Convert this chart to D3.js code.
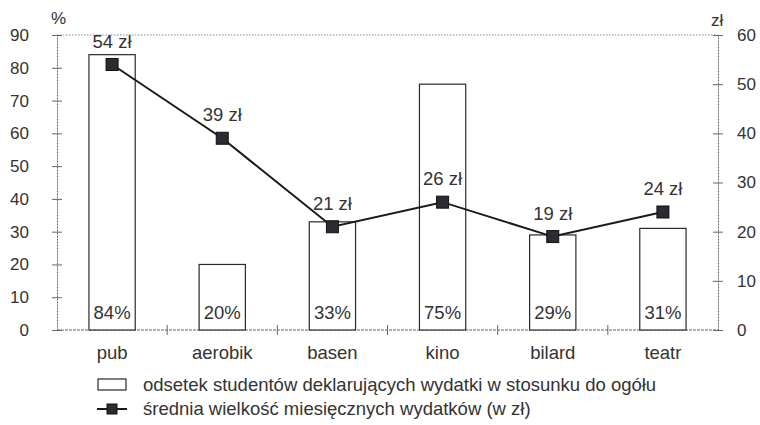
<!DOCTYPE html>
<html><head><meta charset="utf-8">
<script src="https://cdn.jsdelivr.net/npm/d3@7"></script>
<style>body{margin:0;background:#fff}text{font-family:"Liberation Sans",Arial,sans-serif;fill:#333}</style>
</head><body><svg id="c" width="760" height="425"></svg>
<script>
const categories = ["pub","aerobik","basen","kino","bilard","teatr"];
const percentValues = [84,20,33,75,29,31];
const spendValues = [54,39,21,26,19,24];
const leftTicks = [0,10,20,30,40,50,60,70,80,90];
const rightTicks = [0,10,20,30,40,50,60];
const legendLabels = ["odsetek studentów deklarujących wydatki w stosunku do ogółu","średnia wielkość miesięcznych wydatków (w zł)"];

const svg = d3.select("#c");
const L = 57, R = 718, T = 35, B = 330;
const x = d3.scaleBand().domain(categories).range([L,R]).paddingInner(0.58).paddingOuter(0.29);
const xb = d3.scaleBand().domain(categories).range([L,R]);
const yL = d3.scaleLinear().domain([0,90]).range([B,T]);
const yR = d3.scaleLinear().domain([0,60]).range([B,T]);
const axisCol = "#666";
const FS = 18.5;

// top dotted gridline
svg.append("line").attr("x1",L).attr("x2",R).attr("y1",T).attr("y2",T)
  .attr("stroke","#888").attr("stroke-dasharray","1.5,1.5").attr("stroke-width",1);

// left axis
const gl = svg.append("g").attr("transform",`translate(${L},0)`)
  .call(d3.axisLeft(yL).tickValues(leftTicks).tickSize(0).tickPadding(28));
gl.select(".domain").attr("stroke",axisCol).attr("stroke-dasharray","2,1");
gl.selectAll("text").attr("font-size",17).attr("fill","#333").attr("font-family","'Liberation Sans',Arial,sans-serif");
gl.selectAll(".tick").append("line").attr("x1",-5).attr("x2",5).attr("stroke",axisCol);

// right axis
const gr = svg.append("g").attr("transform",`translate(${R},0)`)
  .call(d3.axisRight(yR).tickValues(rightTicks).tickSize(0).tickPadding(19));
gr.select(".domain").attr("stroke",axisCol).attr("stroke-dasharray","2,1");
gr.selectAll("text").attr("font-size",17).attr("fill","#333").attr("font-family","'Liberation Sans',Arial,sans-serif");
gr.selectAll(".tick").append("line").attr("x1",-5).attr("x2",5).attr("stroke",axisCol);

// bottom axis
svg.append("line").attr("x1",L).attr("x2",R).attr("y1",B).attr("y2",B).attr("stroke",axisCol).attr("stroke-dasharray","3,1");
categories.forEach((c,i)=>{ if(i>0){ const xx = xb(c); svg.append("line").attr("x1",xx).attr("x2",xx).attr("y1",B-5).attr("y2",B+5).attr("stroke",axisCol);} });
svg.append("g").selectAll("text").data(categories).join("text")
  .attr("x",d=>x(d)+x.bandwidth()/2).attr("y",359).attr("text-anchor","middle").attr("font-size",FS).text(d=>d);

// axis titles
svg.append("text").attr("x",51).attr("y",24).attr("font-size",17).text("%");
svg.append("text").attr("x",711).attr("y",26).attr("font-size",17).text("zł");

// bars
svg.append("g").selectAll("rect").data(percentValues).join("rect")
  .attr("x",(d,i)=>x(categories[i])).attr("width",x.bandwidth())
  .attr("y",d=>yL(d)).attr("height",d=>B-yL(d))
  .attr("fill","#fff").attr("stroke","#2a2a2a").attr("stroke-width",1.2);
svg.append("g").selectAll("text").data(percentValues).join("text")
  .attr("x",(d,i)=>x(categories[i])+x.bandwidth()/2).attr("y",319).attr("text-anchor","middle")
  .attr("font-size",FS).text(d=>d+"%");

// line
const cx = (i)=>x(categories[i])+x.bandwidth()/2;
svg.append("path").datum(spendValues)
  .attr("d",d3.line().x((d,i)=>cx(i)).y(d=>yR(d)))
  .attr("fill","none").attr("stroke","#1a1a1a").attr("stroke-width",2);
svg.append("g").selectAll("rect").data(spendValues).join("rect")
  .attr("x",(d,i)=>cx(i)-6).attr("y",d=>yR(d)-6).attr("width",12).attr("height",12)
  .attr("fill","#2b2b33").attr("stroke","#111");
svg.append("g").selectAll("text").data(spendValues).join("text")
  .attr("x",(d,i)=>cx(i)).attr("y",d=>yR(d)-17).attr("text-anchor","middle")
  .attr("font-size",FS).text(d=>d+" zł");

// legend
svg.append("rect").attr("x",98).attr("y",379).attr("width",28).attr("height",11)
  .attr("fill","#fff").attr("stroke","#2a2a2a").attr("stroke-width",1.2);
svg.append("text").attr("x",143).attr("y",391).attr("font-size",FS).text(legendLabels[0]);
svg.append("line").attr("x1",97).attr("x2",127).attr("y1",409).attr("y2",409).attr("stroke","#1a1a1a").attr("stroke-width",2);
svg.append("rect").attr("x",107).attr("y",404).attr("width",10).attr("height",10).attr("fill","#2b2b33").attr("stroke","#111");
svg.append("text").attr("x",143).attr("y",415).attr("font-size",FS).text(legendLabels[1]);
</script></body></html>
